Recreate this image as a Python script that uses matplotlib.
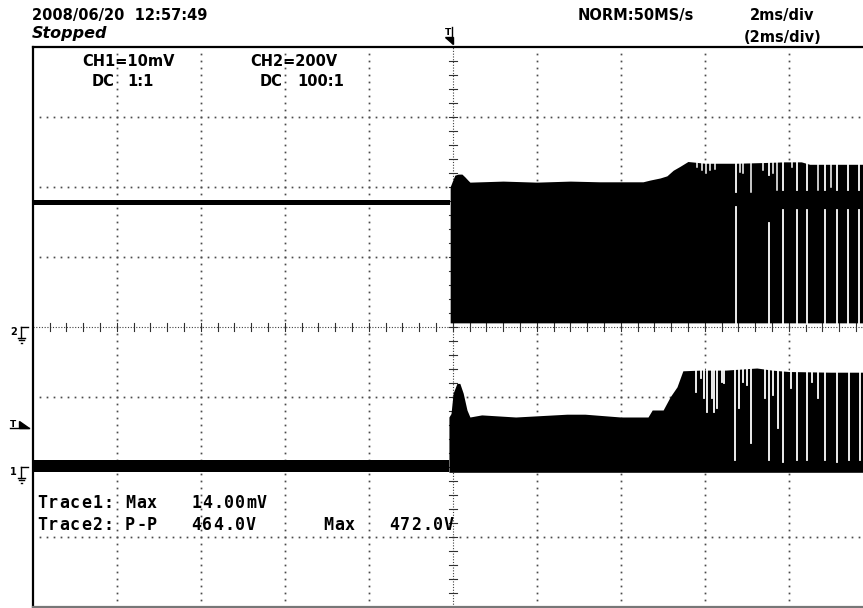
import numpy as np
import matplotlib
matplotlib.use("Agg")
import matplotlib.pyplot as plt
from matplotlib.patches import Polygon

W, H = 863, 608

# header / readout text
date_str = "2008/06/20  12:57:49"
state_str = "Stopped"
rate_str = "NORM:50MS/s"
tdiv_str = "2ms/div"
tdiv2_str = "(2ms/div)"
ch1_setup = ["CH1=10mV", "DC", "1:1"]
ch2_setup = ["CH2=200V", "DC", "100:1"]
meas1 = "Trace1: Max   14.00mV"
meas2 = "Trace2: P-P   464.0V      Max   472.0V"

# scales
ms_per_div = 2.0
ch1_mv_per_div = 10.0
ch2_v_per_div = 200.0
ch1_offset = -2.0   # divisions
ch2_offset = 0.0

# CH2 (volts) - before the trigger it sits on the DC level
ch2_pre_t = [-10.0, -0.06]
ch2_pre_lo = [349, 349]
ch2_pre_hi = [362, 362]
# CH2 switching envelope after the trigger
ch2_t = [-0.06, 0.05, 0.13, 0.22, 0.29, 0.36, 0.41, 1.2, 2.0, 2.8, 3.5, 4.53, 4.70,
         4.94, 5.10, 5.25, 5.41, 5.60, 5.77, 6.0, 6.75, 7.4, 7.9, 8.3, 8.5, 9.77]
ch2_top = [400, 433, 436, 436, 428, 419, 413, 416, 413, 416, 414, 414, 419,
           425, 431, 447, 458, 472, 470, 467, 467, 469, 471, 471, 464, 464]
ch2_bottom = 11
# pauses in switching: black only between lo and hi
ch2_gap_t = [6.75, 7.53, 7.86, 8.20, 8.44, 8.86, 9.15, 9.41, 9.67]
ch2_gap_lo = [343, 296, 333, 333, 333, 333, 333, 333, 333]
ch2_gap_hi = [386, 433, 390, 390, 390, 390, 390, 390, 390]
# short notches at the top of CH2
ch2_dip_t = [5.82, 5.94, 6.03, 6.13, 6.25, 6.84, 6.91, 7.10, 7.39, 7.63, 7.72, 8.08, 8.70, 9.01]
ch2_dip_v = [455, 448, 439, 448, 452, 442, 439, 385, 448, 439, 390, 456, 390, 399]

# CH1 (mV)
ch1_pre_t = [-10.0, -0.09]
ch1_pre_lo = [-0.8, -0.8]
ch1_pre_hi = [1.0, 1.0]
ch1_t = [-0.09, -0.04, 0.01, 0.10, 0.17, 0.25, 0.34, 0.41, 0.69, 1.5, 2.72, 3.15, 4.0,
         4.65, 4.75, 5.01, 5.18, 5.34, 5.48, 5.9, 6.5, 7.24, 7.6, 8.0, 9.0, 9.77]
ch1_top = [7.1, 7.6, 10.5, 11.9, 11.9, 10.5, 8.1, 7.1, 7.4, 7.1, 7.5, 7.5, 7.1,
           7.1, 8.1, 8.1, 10.0, 11.4, 13.7, 13.8, 13.8, 14.1, 13.8, 13.6, 13.5, 13.5]
ch1_bottom = -0.8
# notches in CH1 (white from level up to envelope)
ch1_gap_t = [5.79, 5.91, 5.98, 6.05, 6.17, 6.22, 6.29, 6.41, 6.46, 6.72, 6.82, 6.91, 7.01,
             7.10, 7.44, 7.53, 7.63, 7.75, 7.86, 8.05, 8.20, 8.44, 8.56, 8.70, 8.86,
             9.15, 9.43, 9.70]
ch1_gap_mv = [10.7, 12.7, 9.8, 7.8, 9.8, 7.8, 8.4, 12.1, 11.9, 1.0, 8.4, 12.1, 11.7,
              3.4, 9.8, 1.0, 10.2, 5.5, 0.7, 11.2, 1.0, 1.0, 12.1, 9.8, 1.0,
              0.7, 1.0, 1.0]


def d2(v):
    return np.asarray(v, dtype=float) / ch2_v_per_div + ch2_offset


def d1(v):
    return np.asarray(v, dtype=float) / ch1_mv_per_div + ch1_offset


fig = plt.figure(figsize=(W / 100, H / 100), dpi=100)
fig.patch.set_facecolor("white")

# screen area: left border at 32.7 px, 84 px per time div, 70 px per volt div
x_right = (W - 452.7) / 84 * ms_per_div
ax = fig.add_axes([32.7 / W, (H - 606.7) / H, (W - 32.7) / W, 560 / H])
ax.set_xlim(-10, x_right)
ax.set_ylim(-4, 4)
ax.axis("off")

# graticule
dot = dict(ls="none", marker="s", ms=1.25, color="#4a4a4a", mew=0, zorder=1)
xd = np.arange(-10 + 1 / 6, x_right, 1 / 6)
for gy in [-3, -2, -1, 1, 2, 3]:
    ax.plot(xd, np.full_like(xd, gy), **dot)
yd = np.arange(-4 + 0.1, 4, 0.1)
for gx in [-8, -6, -4, -2, 2, 4, 6, 8]:
    ax.plot(np.full_like(yd, gx), yd, **dot)
ax.plot([-10, x_right], [0, 0], color="#404040", lw=0.8, ls=(0, (1, 1.5)), zorder=1)
ax.plot([0, 0], [-4, 4], color="#404040", lw=0.8, ls=(0, (1, 1.5)), zorder=1)
for tx in np.arange(-9.6, x_right, 0.4):
    ax.plot([tx, tx], [-0.055, 0.055], color="#303030", lw=0.8, zorder=1)
for ty in np.arange(-3.8, 4, 0.2):
    ax.plot([-0.095, 0.095], [ty, ty], color="#303030", lw=0.8, zorder=1)

# CH2
ax.fill_between(ch2_pre_t, d2(ch2_pre_lo), d2(ch2_pre_hi), color="black", lw=0, zorder=3)
ax.fill_between(ch2_t, d2(np.full(len(ch2_t), ch2_bottom)), d2(ch2_top), color="black", lw=0, zorder=3)
env2 = np.interp(ch2_gap_t, ch2_t, ch2_top)
for t, lo, hi, e in zip(ch2_gap_t, ch2_gap_lo, ch2_gap_hi, env2):
    ax.plot([t, t], d2([ch2_bottom - 2, lo]), color="white", lw=1.3, zorder=4)
    ax.plot([t, t], d2([hi, e + 4]), color="white", lw=1.3, zorder=4)
env2d = np.interp(ch2_dip_t, ch2_t, ch2_top)
for t, v, e in zip(ch2_dip_t, ch2_dip_v, env2d):
    ax.plot([t, t], d2([v, e + 4]), color="white", lw=1.1, zorder=4)

# CH1
ax.fill_between(ch1_pre_t, d1(ch1_pre_lo), d1(ch1_pre_hi), color="black", lw=0, zorder=3)
ax.fill_between(ch1_t, d1(np.full(len(ch1_t), ch1_bottom)), d1(ch1_top), color="black", lw=0, zorder=3)
env1 = np.interp(ch1_gap_t, ch1_t, ch1_top)
for t, v, e in zip(ch1_gap_t, ch1_gap_mv, env1):
    ax.plot([t, t], d1([v, e + 0.4]), color="white", lw=1.3, zorder=4)

# overlay in pixel coordinates for frame, markers and text
ov = fig.add_axes([0, 0, 1, 1], zorder=5)
ov.set_xlim(0, W)
ov.set_ylim(H, 0)
ov.axis("off")
ov.patch.set_alpha(0)

ov.plot([32.7, 32.7], [46.7, 606.7], color="black", lw=1.6)
ov.plot([32.7, W], [46.7, 46.7], color="black", lw=1.6)
ov.plot([32.7, W], [606.7, 606.7], color="#777777", lw=1.6)

hdr = dict(family="DejaVu Sans", weight="bold", fontsize=10.5, va="baseline", ha="left")
ov.text(32, 20, date_str, **hdr)
ov.text(32, 38, state_str, family="DejaVu Sans", weight="bold", style="italic",
        fontsize=11.5, va="baseline", ha="left")
ov.text(578, 20, rate_str, fontstretch="expanded", **hdr)
ov.text(750, 20, tdiv_str, **hdr)
ov.text(744, 42, tdiv2_str, **hdr)
ov.text(82, 66, ch1_setup[0], **hdr)
ov.text(92, 86, ch1_setup[1], **hdr)
ov.text(127, 86, ch1_setup[2], **hdr)
ov.text(250, 66, ch2_setup[0], **hdr)
ov.text(260, 86, ch2_setup[1], **hdr)
ov.text(297, 86, ch2_setup[2], **hdr)


def mono(s, x0, base, pitch=11.0):
    for i, ch in enumerate(s):
        if ch != " ":
            ov.text(x0 + (i + 0.5) * pitch, base, ch, family="DejaVu Sans Mono",
                    weight="bold", fontsize=12, ha="center", va="baseline")


mono(meas1, 36.5, 507.5)
mono(meas2, 36.5, 529.5)


def ground(label, y):
    ov.text(13.5, y + 8, label, family="DejaVu Sans", weight="bold", fontsize=7,
            ha="center", va="baseline")
    ov.plot([21, 27.5], [y, y], color="black", lw=1.0)
    ov.plot([21, 21], [y, y + 11], color="black", lw=1.0)
    ov.plot([18, 25], [y + 11, y + 11], color="black", lw=1.0)
    ov.plot([19.3, 23.7], [y + 13.5, y + 13.5], color="black", lw=1.0)
    ov.plot([20.6, 22.4], [y + 16, y + 16], color="black", lw=1.0)


ground("2", 326.7 - 70 * ch2_offset)
ground("1", 326.7 - 70 * ch1_offset)

# trigger level marker (left) and trigger position marker (top)
ov.text(13, 427, "T", family="DejaVu Sans", weight="bold", fontsize=6.5, ha="center", va="baseline")
ov.plot([9.5, 28.5], [428, 428], color="black", lw=1.0)
ov.add_patch(Polygon([(18.5, 420.5), (18.5, 428), (28.5, 428)], closed=True, color="black"))
ov.text(447.5, 35, "T", family="DejaVu Sans", weight="bold", fontsize=6.5, ha="center", va="baseline")
ov.plot([452.2, 452.2], [27, 43], color="black", lw=1.0)
ov.add_patch(Polygon([(445, 36.5), (452.7, 36.5), (452.7, 43.5)], closed=True, color="black"))

fig.savefig("out.png", dpi=100, facecolor="white")
